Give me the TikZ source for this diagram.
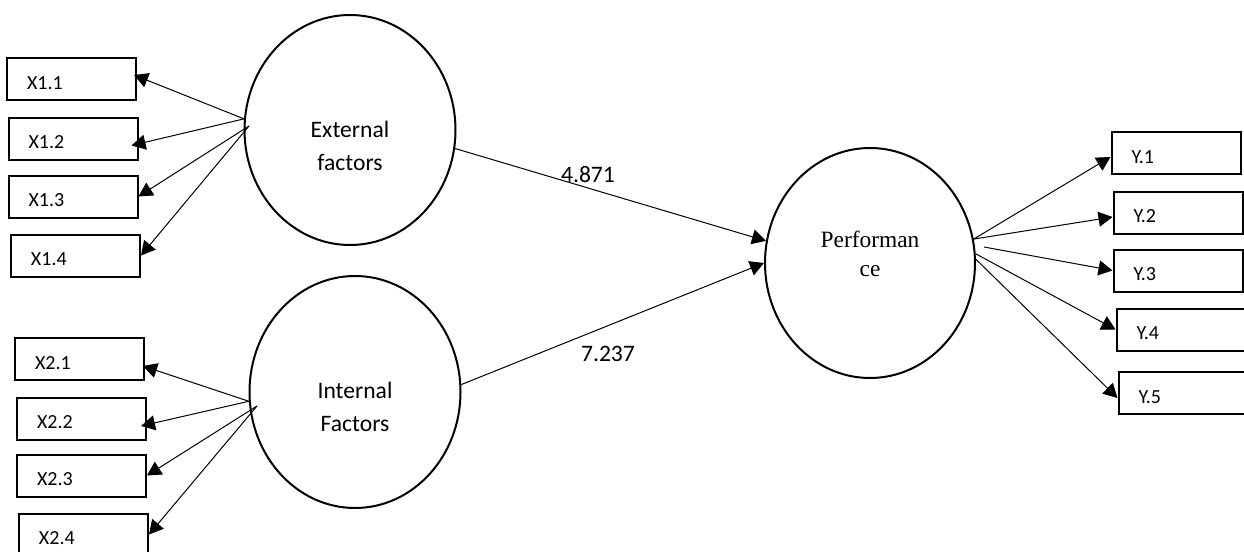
\documentclass[tikz,border=0pt]{standalone}
\usepackage{fontspec}
\setmainfont{Carlito}
\newfontfamily\perffont{Liberation Serif}
\usetikzlibrary{shapes.geometric,arrows.meta}
\tikzset{
  latent/.style={draw,ellipse,line width=1pt,minimum width=105.5pt,minimum height=115pt,inner sep=0pt},
  ind/.style={draw,rectangle,line width=1pt,minimum width=64.5pt,minimum height=21pt,text width=44.5pt,inner xsep=10pt,inner ysep=0pt,align=left,text height=10.4pt,text depth=0pt,font=\fontsize{10}{12}\selectfont},
  load/.style={line width=.5pt,-{Triangle[length=7pt,width=7.5pt]}},
  coef/.style={inner sep=0pt,font=\fontsize{11.8}{14}\selectfont}
}
\begin{document}
\begin{tikzpicture}[x=0.5pt,y=-0.5pt]
      \useasboundingbox (0,0) rectangle (1244,552);

      \node[latent,label={[name=ext-t,align=center,yshift=-8pt,font=\fontsize{11.8}{16.5}\selectfont]center:External\\factors}] (ext) at (350,130){};
      \node[latent,minimum height=116pt,label={[name=int-t,align=center,yshift=-7.25pt,font=\fontsize{11.8}{16.5}\selectfont]center:Internal\\Factors}] (int) at (355,392){};
      \node[latent,minimum width=105pt,label={[name=perf-t,align=center,yshift=4.75pt,font=\perffont\fontsize{11.7}{14.5}\selectfont]center:Performan\\ce}] (perf) at (870,263){};

      \node[ind] (x11) at (71.5,79){X1.1};
      \node[ind] (x12) at (73,138.5){X1.2};
      \node[ind] (x13) at (73,196.5){X1.3};
      \node[ind] (x14) at (75.5,255.5){X1.4};

      \node[ind] (x21) at (79.5,359){X2.1};
      \node[ind] (x22) at (81.5,418.5){X2.2};
      \node[ind] (x23) at (81.5,475.5){X2.3};
      \node[ind] (x24) at (83.5,534.5){X2.4};

      \node[ind] (y1) at (1176,153){Y.1};
      \node[ind] (y2) at (1178,212.5){Y.2};
      \node[ind] (y3) at (1178,270.5){Y.3};
      \node[ind] (y4) at (1181,329.5){Y.4};
      \node[ind] (y5) at (1183,393){Y.5};

      \coordinate (ext-in) at (249,126);
      \coordinate (int-in) at (257,406);
      \coordinate (perf-out) at (984,247);

      \draw[load] (ext.174) -- ([xshift=-1.5pt,yshift=2pt]x11.east);
      \draw[load] (ext.174) -- ([xshift=-3.5pt,yshift=-3.5pt]x12.east);
      \draw[load] (ext-in) -- (x13.east);
      \draw[load] (ext-in) -- (x14.east);

      \draw[load] (int.185) -- ([xshift=-1pt,yshift=-3.5pt]x21.east);
      \draw[load] (int.185) -- ([xshift=-3pt,yshift=-3.75pt]x22.east);
      \draw[load] (int-in) -- (x23.east);
      \draw[load] (int-in) -- (x24.east);

      \draw[load] (perf.13) -- ([yshift=-2pt]y1.west);
      \draw[load] (perf.13) -- ([yshift=-2.25pt]y2.west);
      \draw[load] (perf-out) -- (y3.west);
      \draw[load] (perf.5) -- (y4.west);
      \draw[load] (perf.2) -- ([yshift=-2.5pt]y5.west);

      \draw[load] (ext.-10) -- (perf.168);
      \draw[load] (int.4) -- (perf.180);

      \node[coef] (b-ext) at (588,175){4.871};
      \node[coef] (b-int) at (608,354){7.237};
\end{tikzpicture}
\end{document}
